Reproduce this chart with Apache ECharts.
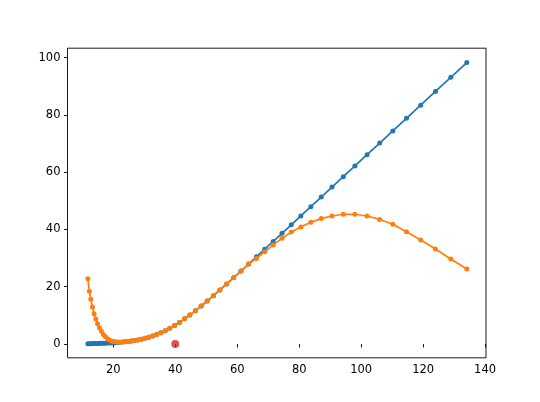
<!DOCTYPE html>
<html>
<head>
<meta charset="utf-8">
<script src="https://cdn.jsdelivr.net/npm/echarts@6/dist/echarts.min.js"></script>
<style>
html,body{margin:0;padding:0;background:#fff;}
#chart{width:540px;height:402px;}
</style>
</head>
<body>
<div id="chart"></div>
<script>
var xValues = [11.79, 12.26, 12.75, 13.26, 13.79, 14.34, 14.92, 15.51, 16.13, 16.78,
  17.45, 18.15, 18.87, 19.63, 20.41, 21.23, 22.08, 22.96, 23.88, 24.83,
  25.83, 26.86, 27.93, 29.05, 30.21, 31.42, 32.68, 33.99, 35.35, 36.76,
  38.23, 39.76, 41.35, 43.00, 44.72, 46.51, 48.37, 50.31, 52.32, 54.41,
  56.59, 58.85, 61.20, 63.65, 66.20, 68.85, 71.60, 74.46, 77.44, 80.54,
  83.76, 87.11, 90.59, 94.22, 97.98, 101.90, 105.98, 110.22, 114.63, 119.21,
  123.98, 128.94, 134.10];
var blueValues = [0.11, 0.12, 0.13, 0.14, 0.15, 0.17, 0.18, 0.20, 0.22, 0.25,
  0.28, 0.31, 0.35, 0.39, 0.44, 0.51, 0.58, 0.67, 0.77, 0.89,
  1.04, 1.22, 1.43, 1.69, 2.00, 2.36, 2.80, 3.33, 3.94, 4.66,
  5.50, 6.46, 7.55, 8.78, 10.14, 11.64, 13.27, 15.02, 16.89, 18.87,
  20.98, 23.16, 25.48, 27.90, 30.44, 33.09, 35.81, 38.67, 41.64, 44.74,
  47.96, 51.31, 54.79, 58.42, 62.18, 66.10, 70.18, 74.42, 78.83, 83.41,
  88.18, 93.14, 98.30];
var orangeValues = [22.8, 18.4, 15.6, 12.9, 10.6, 8.7, 7.1, 5.7, 4.5, 3.3,
  2.5, 1.8, 1.3, 1.0, 0.85, 0.7, 0.65, 0.7, 0.8, 0.9,
  1.04, 1.22, 1.43, 1.69, 2.00, 2.36, 2.80, 3.33, 3.94, 4.66,
  5.50, 6.46, 7.55, 8.78, 10.14, 11.64, 13.27, 15.02, 16.89, 18.87,
  20.98, 23.16, 25.48, 27.90, 29.9, 32.2, 34.6, 36.9, 39.1, 40.9,
  42.5, 43.8, 44.7, 45.3, 45.3, 44.7, 43.5, 41.8, 39.2, 36.3,
  33.2, 29.7, 26.2];
var redPoint = [40, 0];
var xTicks = [20, 40, 60, 80, 100, 120, 140];
var yTicks = [0, 20, 40, 60, 80, 100];

function pairs(xs, ys) { return xs.map(function (x, i) { return [x, ys[i]]; }); }

var chart = echarts.init(document.getElementById('chart'), null, {renderer: 'canvas'});
var labelStyle = {color: '#000', fontFamily: 'DejaVu Sans', fontSize: 11.5};
chart.setOption({
  animation: false,
  backgroundColor: '#fff',
  grid: {left: 67.5, right: 54, top: 48.2, bottom: 44.2, show: true,
         borderColor: '#000', borderWidth: 0.9, backgroundColor: 'transparent'},
  xAxis: {
    type: 'value', min: 5.21, max: 140.3,
    axisLine: {show: false},
    axisTick: {show: true, inside: false, length: 3.5, lineStyle: {color: '#000', width: 0.9}, customValues: xTicks},
    axisLabel: Object.assign({margin: 6.5, customValues: xTicks}, labelStyle),
    splitLine: {show: false}
  },
  yAxis: {
    type: 'value', min: -4.82, max: 103.3,
    axisLine: {show: false},
    axisTick: {show: true, inside: false, length: 3.5, lineStyle: {color: '#000', width: 0.9}, customValues: yTicks},
    axisLabel: Object.assign({margin: 7, customValues: yTicks}, labelStyle),
    splitLine: {show: false}
  },
  series: [
    {type: 'line', data: pairs(xValues, blueValues), symbol: 'circle', symbolSize: 5, showSymbol: true,
     lineStyle: {color: '#1f77b4', width: 1.7}, itemStyle: {color: '#1f77b4'}, z: 2},
    {type: 'line', data: pairs(xValues, orangeValues), symbol: 'circle', symbolSize: 5, showSymbol: true,
     lineStyle: {color: '#ff7f0e', width: 1.7}, itemStyle: {color: '#ff7f0e'}, z: 3},
    {type: 'scatter', data: [redPoint], symbol: 'circle', symbolSize: 8,
     itemStyle: {color: '#d62728'}, z: 4}
  ]
});
</script>
</body>
</html>
